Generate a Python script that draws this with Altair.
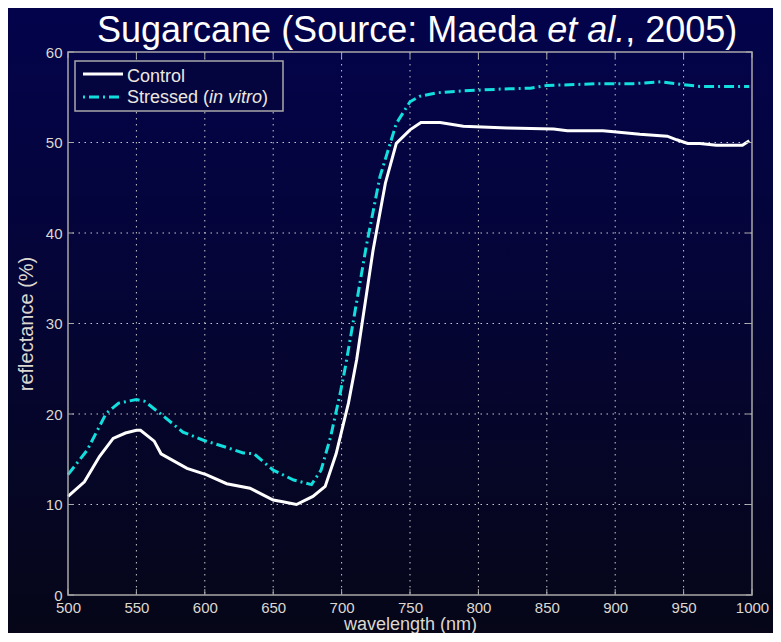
import altair as alt
import pandas as pd

# ---------------- data ----------------
control_nm = [500, 512, 523, 533, 542, 550, 553, 563, 568, 587, 601, 616, 633, 650, 657,
              667, 679, 688, 696, 705, 711, 723, 732, 740, 750, 758, 772, 789, 821, 855,
              865, 891, 899, 918, 938, 945, 953, 962, 974, 993, 998]
control_val = [10.9, 12.5, 15.3, 17.3, 17.9, 18.2, 18.2, 17.0, 15.6, 14.0, 13.3, 12.3, 11.8, 10.5, 10.3,
               10.0, 10.9, 12.0, 15.6, 21.2, 26.0, 38.1, 45.5, 49.9, 51.4, 52.2, 52.2, 51.8, 51.6, 51.5,
               51.3, 51.3, 51.2, 50.9, 50.7, 50.3, 49.9, 49.9, 49.7, 49.7, 50.2]

stressed_nm = [500, 514, 528, 537, 550, 556, 567, 584, 599, 616, 628, 636, 650, 665, 678,
               685, 692, 699, 703, 718, 728, 740, 750, 757, 770, 789, 816, 838, 850, 889,
               913, 933, 949, 962, 998]
stressed_val = [13.3, 16.0, 20.1, 21.2, 21.6, 21.4, 20.1, 18.0, 17.1, 16.3, 15.7, 15.6, 13.8, 12.7, 12.2,
                13.8, 17.5, 22.3, 25.4, 38.5, 46.2, 52.1, 54.5, 55.1, 55.5, 55.7, 55.9, 56.0, 56.3, 56.5,
                56.5, 56.7, 56.4, 56.2, 56.2]

x_ticks = [500, 550, 600, 650, 700, 750, 800, 850, 900, 950, 1000]
y_ticks = [0, 10, 20, 30, 40, 50, 60]

title_parts = ["Sugarcane (Source: Maeda ", "et al.", ", 2005)"]
legend_control = "Control"
legend_stressed = ["Stressed (", "in vitro", ")"]
x_title = "wavelength (nm)"
y_title = "reflectance (%)"

# ---------------- layout / style ----------------
W, H = 684, 543
PAD = {"left": 60, "top": 44, "right": 21, "bottom": 38}
FONT = "Liberation Sans"
CYAN = "#12dede"
GRID = "#c8c8c8"
FRAME = "#a8a8a8"
LABEL = "#dcd8d0"

xs = alt.Scale(domain=[500, 1000], nice=False, zero=False)
ys = alt.Scale(domain=[0, 60], nice=False, zero=False)

XAX = alt.Axis(values=x_ticks, title=x_title, grid=False, ticks=False, domain=False, format="d",
               labelPadding=5, titleY=34, titleBaseline="alphabetic", titleFontSize=18,
               zindex=1, labelFlush=False)
YAX = alt.Axis(values=y_ticks, title=y_title, grid=False, ticks=False, domain=False, format="d",
               labelPadding=6, titlePadding=9, zindex=1, labelFlush=False)


def X():
    return alt.X("nm:Q", scale=xs, axis=XAX)


def Y():
    return alt.Y("val:Q", scale=ys, axis=YAX)


one = pd.DataFrame({"k": [0]})
ctrl = pd.DataFrame({"nm": control_nm, "val": control_val})
strs = pd.DataFrame({"nm": stressed_nm, "val": stressed_val})
xt = pd.DataFrame({"nm": x_ticks})
yt = pd.DataFrame({"val": y_ticks})
xg = pd.DataFrame({"nm": x_ticks[1:-1]})
yg = pd.DataFrame({"val": y_ticks[1:-1]})

bg = alt.Chart(one).mark_rect(
    fill=alt.Gradient(
        gradient="linear", x1=0, x2=0, y1=0, y2=1,
        stops=[alt.GradientStop(color="#03034c", offset=0),
               alt.GradientStop(color="#050534", offset=0.5),
               alt.GradientStop(color="#060618", offset=1)]),
).encode(x=alt.value(-PAD["left"]), x2=alt.value(W + PAD["right"]),
         y=alt.value(-PAD["top"]), y2=alt.value(H + PAD["bottom"]))

grid_x = alt.Chart(xg).mark_rule(color=GRID, strokeDash=[1.5, 4.5], strokeWidth=1).encode(x=X())
grid_y = alt.Chart(yg).mark_rule(color=GRID, strokeDash=[1.5, 4.5], strokeWidth=1).encode(y=Y())

tick_b = alt.Chart(xt).mark_rule(color=FRAME, strokeWidth=1).encode(
    x=X(), y=alt.value(H), y2=alt.value(H - 6))
tick_t = alt.Chart(xt).mark_rule(color=FRAME, strokeWidth=1).encode(
    x=X(), y=alt.value(0), y2=alt.value(6))
tick_l = alt.Chart(yt).mark_rule(color=FRAME, strokeWidth=1).encode(
    y=Y(), x=alt.value(0), x2=alt.value(6))
tick_r = alt.Chart(yt).mark_rule(color=FRAME, strokeWidth=1).encode(
    y=Y(), x=alt.value(W - 6), x2=alt.value(W))

line_c = alt.Chart(ctrl).mark_line(color="#ffffff", strokeWidth=3).encode(x=X(), y=Y())
line_s = alt.Chart(strs).mark_line(color=CYAN, strokeWidth=3, strokeDash=[10, 4, 2, 4]).encode(x=X(), y=Y())

frame = alt.Chart(one).mark_rect(fillOpacity=0, stroke=FRAME, strokeWidth=1.5).encode(
    x=alt.value(0), x2=alt.value(W), y=alt.value(0), y2=alt.value(H))

# legend (drawn by hand to allow the italic "in vitro")
leg_box = alt.Chart(one).mark_rect(fill="#04043e", stroke=FRAME, strokeWidth=1.5).encode(
    x=alt.value(7), x2=alt.value(215), y=alt.value(9), y2=alt.value(59))
leg_c = alt.Chart(one).mark_rule(color="#ffffff", strokeWidth=3).encode(
    x=alt.value(15), x2=alt.value(55), y=alt.value(22))
leg_s = alt.Chart(one).mark_rule(color=CYAN, strokeWidth=3, strokeDash=[2, 4, 10, 4]).encode(
    x=alt.value(15), x2=alt.value(55), y=alt.value(45))


def txt(s, x, y, size, style="normal", color="#ffffff"):
    return alt.Chart(one).mark_text(
        align="left", baseline="alphabetic", font=FONT, fontSize=size,
        fontStyle=style, color=color,
    ).encode(x=alt.value(x), y=alt.value(y), text=alt.value(s))


LEGC = "#ece8e0"
LS = 18
leg_t1 = txt(legend_control, 59, 29.5, LS, color=LEGC)
leg_t2 = txt(legend_stressed[0], 59, 51, LS, color=LEGC)
leg_t3 = txt(legend_stressed[1], 59 + 4.557 * LS, 51, LS, "italic", LEGC)
leg_t4 = txt(legend_stressed[2], 59 + (4.557 + 2.945) * LS, 51, LS, color=LEGC)

TS = 36
t0 = 29
TY = -10
t1 = txt(title_parts[0], t0, TY, TS)
t2 = txt(title_parts[1], t0 + 12.506 * TS, TY, TS, "italic")
t3 = txt(title_parts[2], t0 + (12.506 + 2.168) * TS, TY, TS)

chart = alt.layer(
    bg, grid_x, grid_y, line_s, line_c, tick_b, tick_t, tick_l, tick_r, frame,
    leg_box, leg_c, leg_s, leg_t1, leg_t2, leg_t3, leg_t4, t1, t2, t3,
).properties(
    width=W, height=H,
    autosize=alt.AutoSizeParams(type="none"),
    padding=PAD,
    background="#040430",
).configure_view(
    stroke=None,
).configure_axis(
    labelFont=FONT, labelFontSize=15, labelColor=LABEL,
    titleFont=FONT, titleFontSize=20, titleColor=LABEL, titleFontWeight="normal",
)

chart.save("out.html", embed_options={"renderer": "svg", "actions": False})
